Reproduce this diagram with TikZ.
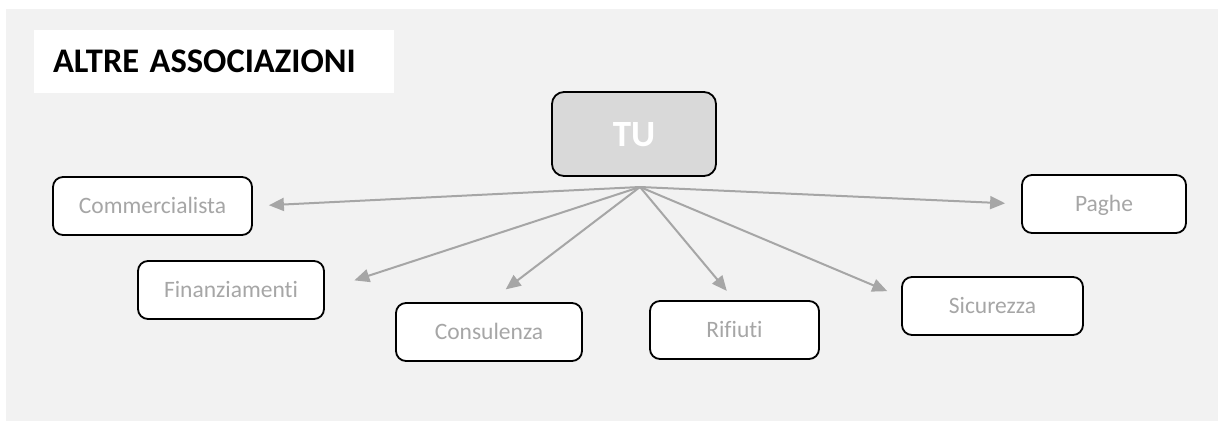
\documentclass[tikz,border=0pt]{standalone}
\usepackage{fontspec}
\setmainfont[Ligatures=NoCommon]{Carlito}
\usetikzlibrary{arrows.meta}
\definecolor{panelgray}{RGB}{242,242,242}
\definecolor{hubgray}{RGB}{217,217,217}
\definecolor{textgray}{RGB}{166,166,166}

\begin{document}
\begin{tikzpicture}[x=1pt,y=-1pt]
    \tikzstyle{every node}=[font=\fontsize{23.5}{28}\selectfont]
    \tikzstyle{box}=[draw=black, line width=1.8pt, fill=white, rounded corners=10pt, text=textgray, minimum height=58pt, inner sep=0pt, text height=15pt, text depth=0pt]
    \tikzstyle{link}=[draw=textgray, line width=2pt, -{Triangle[length=15pt,width=13pt]}]

    \useasboundingbox (0,0) rectangle (1224,421);

    % Panel
    \fill[panelgray] (6,9) rectangle (1218,421);

    % Title
    \node[fill=white, minimum width=360pt, minimum height=63pt, inner xsep=19pt, text width=322pt, align=flush left, font=\fontsize{34.5}{40}\selectfont\bfseries] at (214,61.5) (title) {ALTRE\hspace{0.3em}ASSOCIAZIONI};

    % Centre
    \node[draw=black, line width=1.8pt, fill=hubgray, rounded corners=12pt, minimum width=164pt, minimum height=84pt, text=white, text height=24pt, text depth=0pt, font=\fontsize{37}{40}\selectfont\bfseries] at (634,134) (tu) {TU};
    \coordinate (hub) at (640,187);

    % Boxes
    \node[box, minimum width=199pt] at (152.5,206) (comm) {Commercialista};
    \node[box, minimum width=186pt] at (231,290) (fin) {Finanziamenti};
    \node[box, minimum width=186pt] at (489,332) (cons) {Consulenza};
    \node[box, minimum width=169pt] at (734.5,330) (rif) {Rifiuti};
    \node[box, minimum width=181pt] at (992.5,306) (sic) {Sicurezza};
    \node[box, minimum width=164pt] at (1104,204) (paghe) {Paghe};

    % Arrows
    \draw[link, shorten >=16pt] (hub) -- (comm.east);
    \draw[link, shorten >=31pt] (hub) -- (fin.east);
    \draw[link, shorten >=21pt] (hub) -- (cons.north);
    \draw[link, shorten >=12pt] (hub) -- (rif.north);
    \draw[link, shorten >=15pt] (hub) -- ([yshift=9pt]sic.west);
    \draw[link, shorten >=16pt] (hub) -- (paghe.west);

\end{tikzpicture}
\end{document}
